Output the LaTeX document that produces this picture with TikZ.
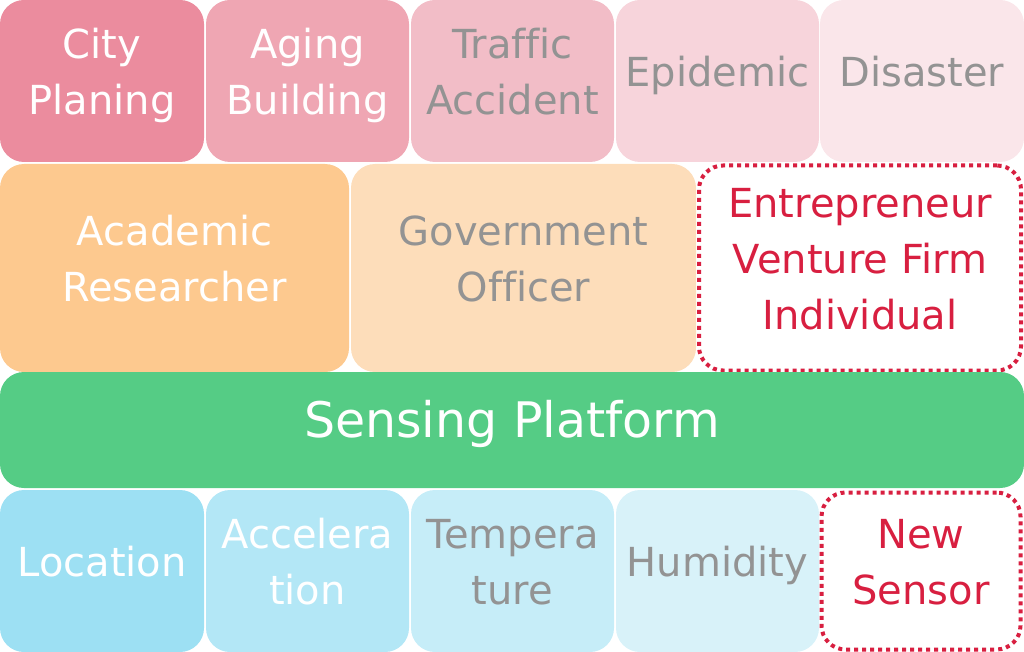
\documentclass[tikz,border=0pt]{standalone}
\usepackage{fontspec}
\setmainfont{DejaVu Sans}[Ligatures=CommonOff]
\definecolor{c1}{HTML}{EB8C9E}
\definecolor{c2}{HTML}{EFA6B3}
\definecolor{c3}{HTML}{F2BDC7}
\definecolor{c4}{HTML}{F7D4DB}
\definecolor{c5}{HTML}{FAE6EA}
\definecolor{o1}{HTML}{FDC98F}
\definecolor{o2}{HTML}{FDDDBA}
\definecolor{gr}{HTML}{55CC85}
\definecolor{b1}{HTML}{9DE0F3}
\definecolor{b2}{HTML}{B3E7F6}
\definecolor{b3}{HTML}{C6EDF8}
\definecolor{b4}{HTML}{D8F2F9}
\definecolor{txg}{HTML}{939393}
\definecolor{rd}{HTML}{D81F40}
\tikzset{
  tile/.style={rounded corners=24pt, inner sep=0pt, align=center,
    text depth=19pt,
    font=\fontsize{40}{56}\selectfont},
  wt/.style={text=white},
  gt/.style={text=txg},
  dotbox/.style={tile, draw=rd, text=rd, line width=4pt, dash pattern=on 4pt off 4pt, fill=white},
}
\begin{document}
\begin{tikzpicture}[x=1pt,y=-1pt]
\useasboundingbox (0,0) rectangle (1024,652);
% row 1
\node[tile, wt, fill=c1, minimum width=204pt, minimum height=162pt] (city) at (102,81) {City\\Planing};
\node[tile, wt, fill=c2, minimum width=203pt, minimum height=162pt] (aging) at (307.5,81) {Aging\\Building};
\node[tile, gt, fill=c3, minimum width=203pt, minimum height=162pt] (traffic) at (512.5,81) {Traffic\\Accident};
\node[tile, gt, fill=c4, minimum width=203pt, minimum height=162pt] (epi) at (717.5,81) {Epidemic};
\node[tile, gt, fill=c5, minimum width=204pt, minimum height=162pt] (dis) at (922,81) {Disaster};
% row 2
\node[tile, wt, fill=o1, minimum width=349pt, minimum height=208pt] (acad) at (174.5,268) {Academic\\Researcher};
\node[tile, gt, fill=o2, minimum width=345pt, minimum height=208pt] (gov) at (523.5,268) {Government\\Officer};
\node[dotbox, minimum width=322pt, minimum height=205pt] (ent) at (860,268) {Entrepreneur\\Venture Firm\\Individual};
% row 3
\node[tile, wt, fill=gr, minimum width=1024pt, minimum height=116pt, text depth=23pt, font=\fontsize{49}{56}\selectfont] (sp) at (512,430) {Sensing Platform};
% row 4
\node[tile, wt, fill=b1, minimum width=204pt, minimum height=162pt] (loc) at (102,571) {Location};
\node[tile, wt, fill=b2, minimum width=203pt, minimum height=162pt] (acc) at (307.5,571) {Accelera\\tion};
\node[tile, gt, fill=b3, minimum width=203pt, minimum height=162pt] (temp) at (512.5,571) {Tempera\\ture};
\node[tile, gt, fill=b4, minimum width=203pt, minimum height=162pt] (hum) at (717.5,571) {Humidity};
\node[dotbox, minimum width=199pt, minimum height=157pt] (new) at (921,571) {New\\Sensor};
\end{tikzpicture}
\end{document}
